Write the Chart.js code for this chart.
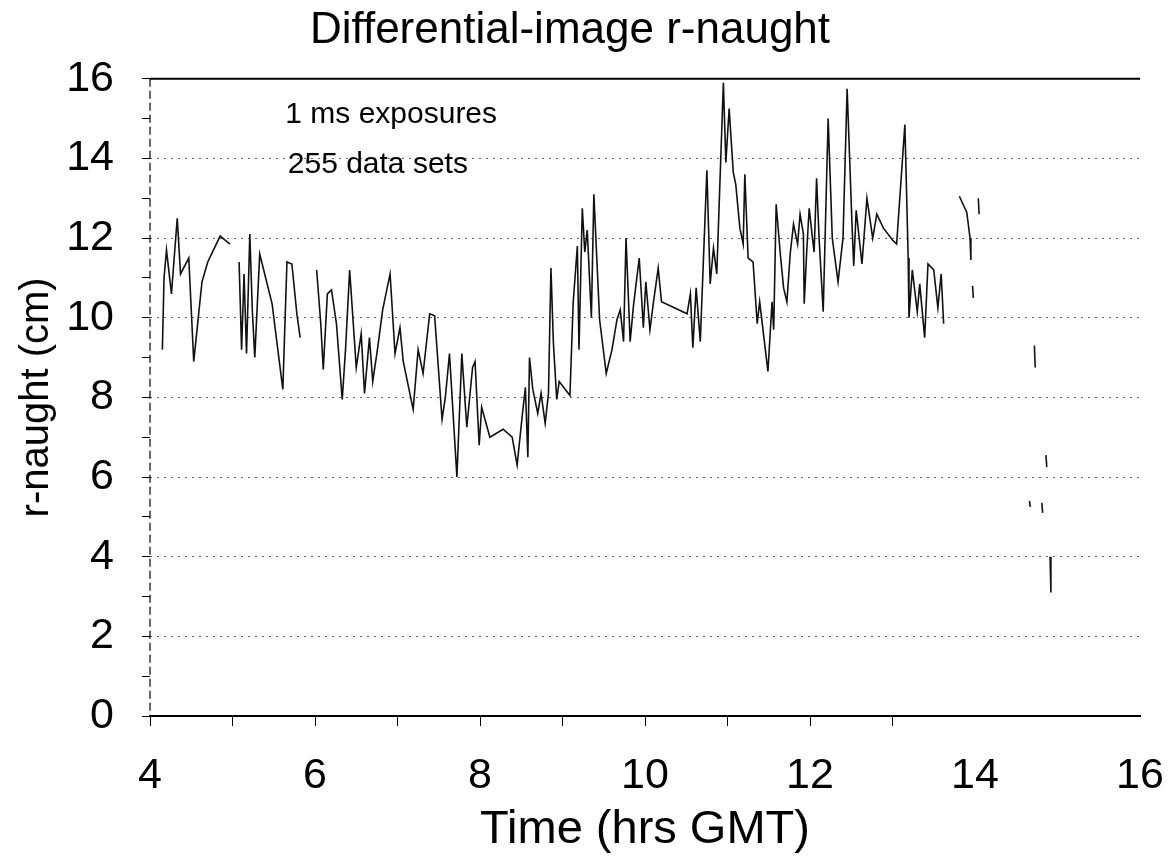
<!DOCTYPE html>
<html>
<head>
<meta charset="utf-8">
<script src="https://cdn.jsdelivr.net/npm/chart.js@4.4.0/dist/chart.umd.min.js"></script>
<style>
  html, body { margin: 0; padding: 0; background: #fff; }
</style>
</head>
<body>
<canvas id="chart" width="1170" height="865"></canvas>
<script>
// horas (GMT) y r-naught (cm); null = hueco en la serie
const horas = [
  4.15, 4.17, 4.20, 4.26, 4.33, 4.37, 4.47, 4.53, 4.63, 4.70, 4.85, 4.97, null,
  5.08, 5.11, 5.14, 5.17, 5.21, 5.24, 5.27, 5.33, 5.48, 5.61, 5.66, 5.72, 5.78, 5.82, null,
  6.02, 6.07, 6.10, 6.15, 6.20, 6.26, 6.33, 6.37, 6.42, 6.50, 6.56, 6.60, 6.66, 6.70, 6.76, 6.82, 6.91, 6.97,
  7.03, 7.07, 7.19, 7.25, 7.31, 7.39, 7.45, 7.54, 7.58, 7.63, 7.72, 7.78, 7.84, 7.91, 7.94, 7.99,
  8.02, 8.12, 8.28, 8.39, 8.45, 8.51, 8.55, 8.58, 8.60, 8.64, 8.70, 8.74, 8.79, 8.83, 8.86, 8.89, 8.93, 8.96,
  9.09, 9.13, 9.18, 9.20, 9.24, 9.27, 9.30, 9.35, 9.38, 9.45, 9.53, 9.60, 9.66, 9.70, 9.74, 9.77, 9.82, 9.86, 9.93, 9.98,
  10.01, 10.06, 10.10, 10.16, 10.20, 10.51, 10.55, 10.58, 10.62, 10.67, 10.75, 10.79, 10.83, 10.87, 10.95, 10.98,
  11.02, 11.07, 11.10, 11.15, 11.19, 11.21, 11.25, 11.31, 11.36, 11.39, 11.49, 11.54, 11.56, 11.59, 11.64, 11.68,
  11.72, 11.76, 11.80, 11.85, 11.88, 11.92, 11.93, 11.96, 11.99,
  12.03, 12.05, 12.08, 12.11, 12.16, 12.22, 12.27, 12.34, 12.40, 12.45, 12.51, 12.53, 12.56, 12.63, 12.69, 12.76,
  12.81, 12.89, 13.00, 13.05, 13.15, 13.18, 13.19, 13.20, 13.24, 13.30, 13.33, 13.39, 13.43, 13.50, 13.55, 13.59, 13.62, null,
  13.81, 13.90, 13.94, 13.95, null,
  13.97, 13.98, null,
  14.04, 14.05, null,
  14.66, 14.67, null,
  14.72, 14.73, null,
  14.81, 14.82, null,
  14.86, 14.87, null,
  14.91, 14.92
];
const rNaught = [
  9.2, 11.0, 11.7, 10.6, 12.5, 11.1, 11.5, 8.9, 10.9, 11.4, 12.05, 11.85, null,
  11.4, 9.2, 11.1, 9.1, 12.1, 10.2, 9.0, 11.6, 10.35, 8.2, 11.4, 11.35, 10.1, 9.5, null,
  11.2, 9.85, 8.7, 10.6, 10.7, 9.85, 7.95, 9.2, 11.2, 8.75, 9.6, 8.1, 9.5, 8.4, 9.25, 10.2, 11.1, 9.1,
  9.75, 8.9, 7.7, 9.2, 8.6, 10.1, 10.05, 7.45, 8.0, 9.1, 6.0, 9.1, 7.25, 8.75, 8.9, 6.8,
  7.75, 7.0, 7.2, 7.0, 6.3, 7.5, 8.25, 6.5, 9.0, 8.2, 7.6, 8.1, 7.35, 8.1, 11.25, 9.35, 7.95, 8.4,
  8.05, 10.4, 11.8, 9.2, 12.75, 11.65, 12.2, 10.0, 13.1, 9.95, 8.6, 9.2, 9.95, 10.2, 9.4, 12.0, 9.4, 10.3, 11.5, 9.75,
  10.9, 9.7, 10.35, 11.25, 10.4, 10.1, 10.6, 9.25, 10.75, 9.4, 13.7, 10.85, 11.75, 11.1, 15.9, 13.9,
  15.25, 13.65, 13.35, 12.25, 11.85, 13.6, 11.5, 11.4, 9.85, 10.4, 8.65, 10.4, 9.7, 12.85, 11.6, 10.75,
  10.4, 11.6, 12.35, 11.85, 12.6, 12.1, 10.35, 11.65, 12.75,
  12.0, 11.65, 13.5, 12.0, 10.15, 15.0, 12.0, 10.9, 12.0, 15.75, 12.3, 11.3, 12.7, 11.35, 13.0, 12.0,
  12.6, 12.25, 11.95, 11.85, 14.85, 12.35, 11.5, 10.0, 11.2, 10.15, 10.85, 9.5, 11.35, 11.2, 10.25, 11.1, 9.85, null,
  13.05, 12.65, 12.0, 11.45, null,
  10.8, 10.5, null,
  13.0, 12.6, null,
  5.4, 5.25, null,
  9.3, 8.75, null,
  5.35, 5.1, null,
  6.55, 6.25, null,
  4.0, 3.1
];
const xTicks = [4, 6, 8, 10, 12, 14, 16];
const yTicks = [0, 2, 4, 6, 8, 10, 12, 14, 16];
const notas = ["1 ms exposures", "255 data sets"];
const notasX = [5.64, 5.67];
const notasY = [15.1, 13.85];

const fuente = '"Liberation Sans", Arial, sans-serif';
Chart.defaults.font.family = fuente;
Chart.defaults.color = "#000";

const puntos = horas.map((h, i) => ({ x: h, y: rNaught[i] }));

// marco: linea superior y eje izquierdo punteado, mas las notas
const extras = {
  id: "extras",
  afterDraw(chart) {
    const { ctx, chartArea: a, scales } = chart;
    ctx.save();
    ctx.strokeStyle = "#000";
    ctx.lineWidth = 2;
    ctx.beginPath();
    ctx.moveTo(a.left, a.top);
    ctx.lineTo(a.right, a.top);
    ctx.stroke();
    ctx.lineWidth = 1.2;
    ctx.setLineDash([8, 4]);
    ctx.beginPath();
    ctx.moveTo(a.left, a.top);
    ctx.lineTo(a.left, a.bottom);
    ctx.stroke();
    ctx.setLineDash([]);
    ctx.font = "30px " + fuente;
    ctx.fillStyle = "#000";
    ctx.textBaseline = "middle";
    notas.forEach((t, i) => {
      ctx.fillText(t, scales.x.getPixelForValue(notasX[i]), scales.y.getPixelForValue(notasY[i]));
    });
    ctx.restore();
  }
};

const data = {
  datasets: [
    {
      label: "r-naught",
      data: puntos,
      borderColor: "#111",
      borderWidth: 1.6,
      pointRadius: 0,
      tension: 0,
      spanGaps: false
    }
  ]
};

const config = {
  type: "line",
  data: data,
  options: {
    responsive: false,
    animation: false,
    layout: { padding: { left: 0, right: 30, top: 0, bottom: 0 } },
    plugins: {
      legend: { display: false },
      tooltip: { enabled: false },
      title: {
        display: true,
        text: "Differential-image r-naught",
        color: "#000",
        font: { size: 44, weight: "normal" },
        padding: { top: 4, bottom: 22 }
      }
    },
    scales: {
      x: {
        type: "linear",
        min: 4,
        max: 16,
        afterFit: (s) => { s.height = 149; s.paddingRight = 0; },
        border: { display: true, color: "#000", width: 2 },
        grid: {
          drawOnChartArea: false,
          drawTicks: true,
          tickLength: 10,
          tickColor: (c) => (c.tick && c.tick.value <= 13 ? "#000" : "rgba(0,0,0,0)")
        },
        ticks: {
          stepSize: 1,
          autoSkip: false,
          maxRotation: 0,
          padding: 24,
          font: { size: 43 },
          callback: (v) => (xTicks.includes(v) ? String(v) : "")
        },
        title: {
          display: true,
          text: "Time (hrs GMT)",
          font: { size: 47 },
          padding: { top: 0, bottom: 7 }
        }
      },
      y: {
        min: 0,
        max: 16,
        afterFit: (s) => { s.width = 150; },
        border: { display: false, dash: [2, 5] },
        grid: {
          color: (c) => (c.tick && c.tick.value % 2 === 0 && c.tick.value > 0 && c.tick.value < 16 ? "#666" : "rgba(0,0,0,0)"),
          lineWidth: 1,
          tickColor: "#000",
          tickLength: 8
        },
        ticks: {
          stepSize: 1,
          autoSkip: false,
          padding: 28,
          font: { size: 43 },
          callback: (v) => (yTicks.includes(v) ? String(v) : "")
        },
        title: {
          display: true,
          text: "r-naught (cm)",
          font: { size: 40 },
          padding: { top: 13, bottom: 0 }
        }
      }
    }
  },
  plugins: [extras]
};

const chart = new Chart(document.getElementById("chart"), config);
</script>
</body>
</html>
